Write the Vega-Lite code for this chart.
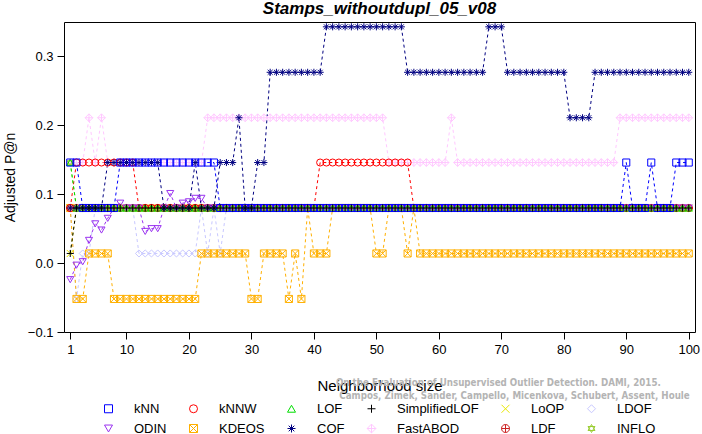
{
"$schema":"https://vega.github.io/schema/vega-lite/v6.json",
"width":631,"height":310,
"autosize":{"type":"none"},
"padding":{"left":64,"top":22,"right":7,"bottom":102},
"background":"white",
"title":{"text":"Stamps_withoutdupl_05_v08","font":"Liberation Sans","fontSize":17,"fontStyle":"italic","fontWeight":"bold","anchor":"middle","offset":4,"color":"#000"},
"config":{"view":{"stroke":"#000","strokeWidth":1},"axis":{"grid":false,"domain":false,"tickColor":"#000","tickSize":7,"labelFont":"Liberation Sans","labelFontSize":13,"labelColor":"#000","titleFont":"Liberation Sans","titleFontSize":14,"titleFontWeight":"normal","titleColor":"#000"},
"legend":{"labelFont":"Liberation Sans","labelFontSize":13,"labelColor":"#000"}},
"data":{"values":[
{"m":"FastABOD","k":1,"v":0.146},{"m":"FastABOD","k":2,"v":0.146},{"m":"FastABOD","k":3,"v":0.146},{"m":"FastABOD","k":4,"v":0.211},{"m":"FastABOD","k":5,"v":0.146},{"m":"FastABOD","k":6,"v":0.211},{"m":"FastABOD","k":7,"v":0.146},{"m":"FastABOD","k":8,"v":0.146},{"m":"FastABOD","k":9,"v":0.146},{"m":"FastABOD","k":10,"v":0.146},
{"m":"FastABOD","k":11,"v":0.146},{"m":"FastABOD","k":12,"v":0.146},{"m":"FastABOD","k":13,"v":0.146},{"m":"FastABOD","k":14,"v":0.146},{"m":"FastABOD","k":15,"v":0.146},{"m":"FastABOD","k":16,"v":0.146},{"m":"FastABOD","k":17,"v":0.146},{"m":"FastABOD","k":18,"v":0.146},{"m":"FastABOD","k":19,"v":0.146},{"m":"FastABOD","k":20,"v":0.146},
{"m":"FastABOD","k":21,"v":0.146},{"m":"FastABOD","k":22,"v":0.146},{"m":"FastABOD","k":23,"v":0.211},{"m":"FastABOD","k":24,"v":0.211},{"m":"FastABOD","k":25,"v":0.211},{"m":"FastABOD","k":26,"v":0.211},{"m":"FastABOD","k":27,"v":0.211},{"m":"FastABOD","k":28,"v":0.211},{"m":"FastABOD","k":29,"v":0.211},{"m":"FastABOD","k":30,"v":0.211},
{"m":"FastABOD","k":31,"v":0.211},{"m":"FastABOD","k":32,"v":0.211},{"m":"FastABOD","k":33,"v":0.211},{"m":"FastABOD","k":34,"v":0.211},{"m":"FastABOD","k":35,"v":0.211},{"m":"FastABOD","k":36,"v":0.211},{"m":"FastABOD","k":37,"v":0.211},{"m":"FastABOD","k":38,"v":0.211},{"m":"FastABOD","k":39,"v":0.211},{"m":"FastABOD","k":40,"v":0.211},
{"m":"FastABOD","k":41,"v":0.211},{"m":"FastABOD","k":42,"v":0.211},{"m":"FastABOD","k":43,"v":0.211},{"m":"FastABOD","k":44,"v":0.211},{"m":"FastABOD","k":45,"v":0.211},{"m":"FastABOD","k":46,"v":0.211},{"m":"FastABOD","k":47,"v":0.211},{"m":"FastABOD","k":48,"v":0.211},{"m":"FastABOD","k":49,"v":0.211},{"m":"FastABOD","k":50,"v":0.211},
{"m":"FastABOD","k":51,"v":0.211},{"m":"FastABOD","k":52,"v":0.146},{"m":"FastABOD","k":53,"v":0.146},{"m":"FastABOD","k":54,"v":0.146},{"m":"FastABOD","k":55,"v":0.146},{"m":"FastABOD","k":56,"v":0.146},{"m":"FastABOD","k":57,"v":0.146},{"m":"FastABOD","k":58,"v":0.146},{"m":"FastABOD","k":59,"v":0.146},{"m":"FastABOD","k":60,"v":0.146},
{"m":"FastABOD","k":61,"v":0.146},{"m":"FastABOD","k":62,"v":0.211},{"m":"FastABOD","k":63,"v":0.146},{"m":"FastABOD","k":64,"v":0.146},{"m":"FastABOD","k":65,"v":0.146},{"m":"FastABOD","k":66,"v":0.146},{"m":"FastABOD","k":67,"v":0.146},{"m":"FastABOD","k":68,"v":0.146},{"m":"FastABOD","k":69,"v":0.146},{"m":"FastABOD","k":70,"v":0.146},
{"m":"FastABOD","k":71,"v":0.146},{"m":"FastABOD","k":72,"v":0.146},{"m":"FastABOD","k":73,"v":0.146},{"m":"FastABOD","k":74,"v":0.146},{"m":"FastABOD","k":75,"v":0.146},{"m":"FastABOD","k":76,"v":0.146},{"m":"FastABOD","k":77,"v":0.146},{"m":"FastABOD","k":78,"v":0.146},{"m":"FastABOD","k":79,"v":0.146},{"m":"FastABOD","k":80,"v":0.146},
{"m":"FastABOD","k":81,"v":0.146},{"m":"FastABOD","k":82,"v":0.146},{"m":"FastABOD","k":83,"v":0.146},{"m":"FastABOD","k":84,"v":0.146},{"m":"FastABOD","k":85,"v":0.146},{"m":"FastABOD","k":86,"v":0.146},{"m":"FastABOD","k":87,"v":0.146},{"m":"FastABOD","k":88,"v":0.146},{"m":"FastABOD","k":89,"v":0.211},{"m":"FastABOD","k":90,"v":0.211},
{"m":"FastABOD","k":91,"v":0.211},{"m":"FastABOD","k":92,"v":0.211},{"m":"FastABOD","k":93,"v":0.211},{"m":"FastABOD","k":94,"v":0.211},{"m":"FastABOD","k":95,"v":0.211},{"m":"FastABOD","k":96,"v":0.211},{"m":"FastABOD","k":97,"v":0.211},{"m":"FastABOD","k":98,"v":0.211},{"m":"FastABOD","k":99,"v":0.211},{"m":"FastABOD","k":100,"v":0.211},
{"m":"LDOF","k":1,"v":0.08},{"m":"LDOF","k":2,"v":-0.052},{"m":"LDOF","k":3,"v":0.014},{"m":"LDOF","k":4,"v":0.014},{"m":"LDOF","k":5,"v":0.08},{"m":"LDOF","k":6,"v":0.08},{"m":"LDOF","k":7,"v":0.08},{"m":"LDOF","k":8,"v":0.08},{"m":"LDOF","k":9,"v":0.08},{"m":"LDOF","k":10,"v":0.08},
{"m":"LDOF","k":11,"v":0.08},{"m":"LDOF","k":12,"v":0.014},{"m":"LDOF","k":13,"v":0.014},{"m":"LDOF","k":14,"v":0.014},{"m":"LDOF","k":15,"v":0.014},{"m":"LDOF","k":16,"v":0.014},{"m":"LDOF","k":17,"v":0.014},{"m":"LDOF","k":18,"v":0.014},{"m":"LDOF","k":19,"v":0.014},{"m":"LDOF","k":20,"v":0.014},
{"m":"LDOF","k":21,"v":0.014},{"m":"LDOF","k":22,"v":0.08},{"m":"LDOF","k":23,"v":0.014},{"m":"LDOF","k":24,"v":0.08},{"m":"LDOF","k":25,"v":0.014},{"m":"LDOF","k":26,"v":0.08},{"m":"LDOF","k":27,"v":0.08},{"m":"LDOF","k":28,"v":0.08},{"m":"LDOF","k":29,"v":0.08},{"m":"LDOF","k":30,"v":0.08},
{"m":"LDOF","k":31,"v":0.08},{"m":"LDOF","k":32,"v":0.08},{"m":"LDOF","k":33,"v":0.08},{"m":"LDOF","k":34,"v":0.08},{"m":"LDOF","k":35,"v":0.08},{"m":"LDOF","k":36,"v":0.08},{"m":"LDOF","k":37,"v":0.08},{"m":"LDOF","k":38,"v":0.08},{"m":"LDOF","k":39,"v":0.08},{"m":"LDOF","k":40,"v":0.08},
{"m":"LDOF","k":41,"v":0.08},{"m":"LDOF","k":42,"v":0.08},{"m":"LDOF","k":43,"v":0.08},{"m":"LDOF","k":44,"v":0.08},{"m":"LDOF","k":45,"v":0.08},{"m":"LDOF","k":46,"v":0.08},{"m":"LDOF","k":47,"v":0.08},{"m":"LDOF","k":48,"v":0.08},{"m":"LDOF","k":49,"v":0.08},{"m":"LDOF","k":50,"v":0.08},
{"m":"LDOF","k":51,"v":0.08},{"m":"LDOF","k":52,"v":0.08},{"m":"LDOF","k":53,"v":0.08},{"m":"LDOF","k":54,"v":0.08},{"m":"LDOF","k":55,"v":0.08},{"m":"LDOF","k":56,"v":0.08},{"m":"LDOF","k":57,"v":0.08},{"m":"LDOF","k":58,"v":0.08},{"m":"LDOF","k":59,"v":0.08},{"m":"LDOF","k":60,"v":0.08},
{"m":"LDOF","k":61,"v":0.08},{"m":"LDOF","k":62,"v":0.08},{"m":"LDOF","k":63,"v":0.08},{"m":"LDOF","k":64,"v":0.08},{"m":"LDOF","k":65,"v":0.08},{"m":"LDOF","k":66,"v":0.08},{"m":"LDOF","k":67,"v":0.08},{"m":"LDOF","k":68,"v":0.08},{"m":"LDOF","k":69,"v":0.08},{"m":"LDOF","k":70,"v":0.08},
{"m":"LDOF","k":71,"v":0.08},{"m":"LDOF","k":72,"v":0.08},{"m":"LDOF","k":73,"v":0.08},{"m":"LDOF","k":74,"v":0.08},{"m":"LDOF","k":75,"v":0.08},{"m":"LDOF","k":76,"v":0.08},{"m":"LDOF","k":77,"v":0.08},{"m":"LDOF","k":78,"v":0.08},{"m":"LDOF","k":79,"v":0.08},{"m":"LDOF","k":80,"v":0.08},
{"m":"LDOF","k":81,"v":0.08},{"m":"LDOF","k":82,"v":0.08},{"m":"LDOF","k":83,"v":0.08},{"m":"LDOF","k":84,"v":0.08},{"m":"LDOF","k":85,"v":0.08},{"m":"LDOF","k":86,"v":0.08},{"m":"LDOF","k":87,"v":0.08},{"m":"LDOF","k":88,"v":0.08},{"m":"LDOF","k":89,"v":0.08},{"m":"LDOF","k":90,"v":0.08},
{"m":"LDOF","k":91,"v":0.08},{"m":"LDOF","k":92,"v":0.08},{"m":"LDOF","k":93,"v":0.08},{"m":"LDOF","k":94,"v":0.08},{"m":"LDOF","k":95,"v":0.08},{"m":"LDOF","k":96,"v":0.08},{"m":"LDOF","k":97,"v":0.08},{"m":"LDOF","k":98,"v":0.08},{"m":"LDOF","k":99,"v":0.08},{"m":"LDOF","k":100,"v":0.08},
{"m":"KDEOS","k":1,"v":0.08},{"m":"KDEOS","k":2,"v":-0.052},{"m":"KDEOS","k":3,"v":-0.052},{"m":"KDEOS","k":4,"v":0.014},{"m":"KDEOS","k":5,"v":0.014},{"m":"KDEOS","k":6,"v":0.014},{"m":"KDEOS","k":7,"v":0.014},{"m":"KDEOS","k":8,"v":-0.052},{"m":"KDEOS","k":9,"v":-0.052},{"m":"KDEOS","k":10,"v":-0.052},
{"m":"KDEOS","k":11,"v":-0.052},{"m":"KDEOS","k":12,"v":-0.052},{"m":"KDEOS","k":13,"v":-0.052},{"m":"KDEOS","k":14,"v":-0.052},{"m":"KDEOS","k":15,"v":-0.052},{"m":"KDEOS","k":16,"v":-0.052},{"m":"KDEOS","k":17,"v":-0.052},{"m":"KDEOS","k":18,"v":-0.052},{"m":"KDEOS","k":19,"v":-0.052},{"m":"KDEOS","k":20,"v":-0.052},
{"m":"KDEOS","k":21,"v":-0.052},{"m":"KDEOS","k":22,"v":0.014},{"m":"KDEOS","k":23,"v":0.014},{"m":"KDEOS","k":24,"v":0.014},{"m":"KDEOS","k":25,"v":0.014},{"m":"KDEOS","k":26,"v":0.014},{"m":"KDEOS","k":27,"v":0.014},{"m":"KDEOS","k":28,"v":0.014},{"m":"KDEOS","k":29,"v":0.014},{"m":"KDEOS","k":30,"v":-0.052},
{"m":"KDEOS","k":31,"v":-0.052},{"m":"KDEOS","k":32,"v":0.014},{"m":"KDEOS","k":33,"v":0.014},{"m":"KDEOS","k":34,"v":0.014},{"m":"KDEOS","k":35,"v":0.014},{"m":"KDEOS","k":36,"v":-0.052},{"m":"KDEOS","k":37,"v":0.014},{"m":"KDEOS","k":38,"v":-0.052},{"m":"KDEOS","k":39,"v":0.08},{"m":"KDEOS","k":40,"v":0.014},
{"m":"KDEOS","k":41,"v":0.014},{"m":"KDEOS","k":42,"v":0.014},{"m":"KDEOS","k":43,"v":0.08},{"m":"KDEOS","k":44,"v":0.08},{"m":"KDEOS","k":45,"v":0.08},{"m":"KDEOS","k":46,"v":0.08},{"m":"KDEOS","k":47,"v":0.08},{"m":"KDEOS","k":48,"v":0.08},{"m":"KDEOS","k":49,"v":0.08},{"m":"KDEOS","k":50,"v":0.014},
{"m":"KDEOS","k":51,"v":0.014},{"m":"KDEOS","k":52,"v":0.08},{"m":"KDEOS","k":53,"v":0.08},{"m":"KDEOS","k":54,"v":0.08},{"m":"KDEOS","k":55,"v":0.014},{"m":"KDEOS","k":56,"v":0.08},{"m":"KDEOS","k":57,"v":0.014},{"m":"KDEOS","k":58,"v":0.014},{"m":"KDEOS","k":59,"v":0.014},{"m":"KDEOS","k":60,"v":0.014},
{"m":"KDEOS","k":61,"v":0.014},{"m":"KDEOS","k":62,"v":0.014},{"m":"KDEOS","k":63,"v":0.014},{"m":"KDEOS","k":64,"v":0.014},{"m":"KDEOS","k":65,"v":0.014},{"m":"KDEOS","k":66,"v":0.014},{"m":"KDEOS","k":67,"v":0.014},{"m":"KDEOS","k":68,"v":0.014},{"m":"KDEOS","k":69,"v":0.014},{"m":"KDEOS","k":70,"v":0.014},
{"m":"KDEOS","k":71,"v":0.014},{"m":"KDEOS","k":72,"v":0.014},{"m":"KDEOS","k":73,"v":0.014},{"m":"KDEOS","k":74,"v":0.014},{"m":"KDEOS","k":75,"v":0.014},{"m":"KDEOS","k":76,"v":0.014},{"m":"KDEOS","k":77,"v":0.014},{"m":"KDEOS","k":78,"v":0.014},{"m":"KDEOS","k":79,"v":0.014},{"m":"KDEOS","k":80,"v":0.014},
{"m":"KDEOS","k":81,"v":0.014},{"m":"KDEOS","k":82,"v":0.014},{"m":"KDEOS","k":83,"v":0.014},{"m":"KDEOS","k":84,"v":0.014},{"m":"KDEOS","k":85,"v":0.014},{"m":"KDEOS","k":86,"v":0.014},{"m":"KDEOS","k":87,"v":0.014},{"m":"KDEOS","k":88,"v":0.014},{"m":"KDEOS","k":89,"v":0.014},{"m":"KDEOS","k":90,"v":0.014},
{"m":"KDEOS","k":91,"v":0.014},{"m":"KDEOS","k":92,"v":0.014},{"m":"KDEOS","k":93,"v":0.014},{"m":"KDEOS","k":94,"v":0.014},{"m":"KDEOS","k":95,"v":0.014},{"m":"KDEOS","k":96,"v":0.014},{"m":"KDEOS","k":97,"v":0.014},{"m":"KDEOS","k":98,"v":0.014},{"m":"KDEOS","k":99,"v":0.014},{"m":"KDEOS","k":100,"v":0.014},
{"m":"LoOP","k":1,"v":0.014},{"m":"LoOP","k":2,"v":0.08},{"m":"LoOP","k":3,"v":0.08},{"m":"LoOP","k":4,"v":0.08},{"m":"LoOP","k":5,"v":0.08},{"m":"LoOP","k":6,"v":0.08},{"m":"LoOP","k":7,"v":0.08},{"m":"LoOP","k":8,"v":0.08},{"m":"LoOP","k":9,"v":0.08},{"m":"LoOP","k":10,"v":0.08},
{"m":"LoOP","k":11,"v":0.08},{"m":"LoOP","k":12,"v":0.08},{"m":"LoOP","k":13,"v":0.08},{"m":"LoOP","k":14,"v":0.08},{"m":"LoOP","k":15,"v":0.08},{"m":"LoOP","k":16,"v":0.08},{"m":"LoOP","k":17,"v":0.08},{"m":"LoOP","k":18,"v":0.08},{"m":"LoOP","k":19,"v":0.08},{"m":"LoOP","k":20,"v":0.08},
{"m":"LoOP","k":21,"v":0.08},{"m":"LoOP","k":22,"v":0.08},{"m":"LoOP","k":23,"v":0.08},{"m":"LoOP","k":24,"v":0.08},{"m":"LoOP","k":25,"v":0.08},{"m":"LoOP","k":26,"v":0.08},{"m":"LoOP","k":27,"v":0.08},{"m":"LoOP","k":28,"v":0.08},{"m":"LoOP","k":29,"v":0.08},{"m":"LoOP","k":30,"v":0.08},
{"m":"LoOP","k":31,"v":0.08},{"m":"LoOP","k":32,"v":0.08},{"m":"LoOP","k":33,"v":0.08},{"m":"LoOP","k":34,"v":0.08},{"m":"LoOP","k":35,"v":0.08},{"m":"LoOP","k":36,"v":0.08},{"m":"LoOP","k":37,"v":0.08},{"m":"LoOP","k":38,"v":0.08},{"m":"LoOP","k":39,"v":0.08},{"m":"LoOP","k":40,"v":0.08},
{"m":"LoOP","k":41,"v":0.08},{"m":"LoOP","k":42,"v":0.08},{"m":"LoOP","k":43,"v":0.08},{"m":"LoOP","k":44,"v":0.08},{"m":"LoOP","k":45,"v":0.08},{"m":"LoOP","k":46,"v":0.08},{"m":"LoOP","k":47,"v":0.08},{"m":"LoOP","k":48,"v":0.08},{"m":"LoOP","k":49,"v":0.08},{"m":"LoOP","k":50,"v":0.08},
{"m":"LoOP","k":51,"v":0.08},{"m":"LoOP","k":52,"v":0.08},{"m":"LoOP","k":53,"v":0.08},{"m":"LoOP","k":54,"v":0.08},{"m":"LoOP","k":55,"v":0.08},{"m":"LoOP","k":56,"v":0.08},{"m":"LoOP","k":57,"v":0.08},{"m":"LoOP","k":58,"v":0.08},{"m":"LoOP","k":59,"v":0.08},{"m":"LoOP","k":60,"v":0.08},
{"m":"LoOP","k":61,"v":0.08},{"m":"LoOP","k":62,"v":0.08},{"m":"LoOP","k":63,"v":0.08},{"m":"LoOP","k":64,"v":0.08},{"m":"LoOP","k":65,"v":0.08},{"m":"LoOP","k":66,"v":0.08},{"m":"LoOP","k":67,"v":0.08},{"m":"LoOP","k":68,"v":0.08},{"m":"LoOP","k":69,"v":0.08},{"m":"LoOP","k":70,"v":0.08},
{"m":"LoOP","k":71,"v":0.08},{"m":"LoOP","k":72,"v":0.08},{"m":"LoOP","k":73,"v":0.08},{"m":"LoOP","k":74,"v":0.08},{"m":"LoOP","k":75,"v":0.08},{"m":"LoOP","k":76,"v":0.08},{"m":"LoOP","k":77,"v":0.08},{"m":"LoOP","k":78,"v":0.08},{"m":"LoOP","k":79,"v":0.08},{"m":"LoOP","k":80,"v":0.08},
{"m":"LoOP","k":81,"v":0.08},{"m":"LoOP","k":82,"v":0.08},{"m":"LoOP","k":83,"v":0.08},{"m":"LoOP","k":84,"v":0.08},{"m":"LoOP","k":85,"v":0.08},{"m":"LoOP","k":86,"v":0.08},{"m":"LoOP","k":87,"v":0.08},{"m":"LoOP","k":88,"v":0.08},{"m":"LoOP","k":89,"v":0.08},{"m":"LoOP","k":90,"v":0.08},
{"m":"LoOP","k":91,"v":0.08},{"m":"LoOP","k":92,"v":0.08},{"m":"LoOP","k":93,"v":0.08},{"m":"LoOP","k":94,"v":0.08},{"m":"LoOP","k":95,"v":0.08},{"m":"LoOP","k":96,"v":0.08},{"m":"LoOP","k":97,"v":0.08},{"m":"LoOP","k":98,"v":0.08},{"m":"LoOP","k":99,"v":0.08},{"m":"LoOP","k":100,"v":0.08},
{"m":"INFLO","k":1,"v":0.146},{"m":"INFLO","k":2,"v":0.08},{"m":"INFLO","k":3,"v":0.08},{"m":"INFLO","k":4,"v":0.08},{"m":"INFLO","k":5,"v":0.08},{"m":"INFLO","k":6,"v":0.08},{"m":"INFLO","k":7,"v":0.08},{"m":"INFLO","k":8,"v":0.08},{"m":"INFLO","k":9,"v":0.08},{"m":"INFLO","k":10,"v":0.08},
{"m":"INFLO","k":11,"v":0.08},{"m":"INFLO","k":12,"v":0.08},{"m":"INFLO","k":13,"v":0.08},{"m":"INFLO","k":14,"v":0.08},{"m":"INFLO","k":15,"v":0.08},{"m":"INFLO","k":16,"v":0.08},{"m":"INFLO","k":17,"v":0.08},{"m":"INFLO","k":18,"v":0.08},{"m":"INFLO","k":19,"v":0.08},{"m":"INFLO","k":20,"v":0.08},
{"m":"INFLO","k":21,"v":0.08},{"m":"INFLO","k":22,"v":0.08},{"m":"INFLO","k":23,"v":0.08},{"m":"INFLO","k":24,"v":0.08},{"m":"INFLO","k":25,"v":0.08},{"m":"INFLO","k":26,"v":0.08},{"m":"INFLO","k":27,"v":0.08},{"m":"INFLO","k":28,"v":0.08},{"m":"INFLO","k":29,"v":0.08},{"m":"INFLO","k":30,"v":0.08},
{"m":"INFLO","k":31,"v":0.08},{"m":"INFLO","k":32,"v":0.08},{"m":"INFLO","k":33,"v":0.08},{"m":"INFLO","k":34,"v":0.08},{"m":"INFLO","k":35,"v":0.08},{"m":"INFLO","k":36,"v":0.08},{"m":"INFLO","k":37,"v":0.08},{"m":"INFLO","k":38,"v":0.08},{"m":"INFLO","k":39,"v":0.08},{"m":"INFLO","k":40,"v":0.08},
{"m":"INFLO","k":41,"v":0.08},{"m":"INFLO","k":42,"v":0.08},{"m":"INFLO","k":43,"v":0.08},{"m":"INFLO","k":44,"v":0.08},{"m":"INFLO","k":45,"v":0.08},{"m":"INFLO","k":46,"v":0.08},{"m":"INFLO","k":47,"v":0.08},{"m":"INFLO","k":48,"v":0.08},{"m":"INFLO","k":49,"v":0.08},{"m":"INFLO","k":50,"v":0.08},
{"m":"INFLO","k":51,"v":0.08},{"m":"INFLO","k":52,"v":0.08},{"m":"INFLO","k":53,"v":0.08},{"m":"INFLO","k":54,"v":0.08},{"m":"INFLO","k":55,"v":0.08},{"m":"INFLO","k":56,"v":0.08},{"m":"INFLO","k":57,"v":0.08},{"m":"INFLO","k":58,"v":0.08},{"m":"INFLO","k":59,"v":0.08},{"m":"INFLO","k":60,"v":0.08},
{"m":"INFLO","k":61,"v":0.08},{"m":"INFLO","k":62,"v":0.08},{"m":"INFLO","k":63,"v":0.08},{"m":"INFLO","k":64,"v":0.08},{"m":"INFLO","k":65,"v":0.08},{"m":"INFLO","k":66,"v":0.08},{"m":"INFLO","k":67,"v":0.08},{"m":"INFLO","k":68,"v":0.08},{"m":"INFLO","k":69,"v":0.08},{"m":"INFLO","k":70,"v":0.08},
{"m":"INFLO","k":71,"v":0.08},{"m":"INFLO","k":72,"v":0.08},{"m":"INFLO","k":73,"v":0.08},{"m":"INFLO","k":74,"v":0.08},{"m":"INFLO","k":75,"v":0.08},{"m":"INFLO","k":76,"v":0.08},{"m":"INFLO","k":77,"v":0.08},{"m":"INFLO","k":78,"v":0.08},{"m":"INFLO","k":79,"v":0.08},{"m":"INFLO","k":80,"v":0.08},
{"m":"INFLO","k":81,"v":0.08},{"m":"INFLO","k":82,"v":0.08},{"m":"INFLO","k":83,"v":0.08},{"m":"INFLO","k":84,"v":0.08},{"m":"INFLO","k":85,"v":0.08},{"m":"INFLO","k":86,"v":0.08},{"m":"INFLO","k":87,"v":0.08},{"m":"INFLO","k":88,"v":0.08},{"m":"INFLO","k":89,"v":0.08},{"m":"INFLO","k":90,"v":0.08},
{"m":"INFLO","k":91,"v":0.08},{"m":"INFLO","k":92,"v":0.08},{"m":"INFLO","k":93,"v":0.08},{"m":"INFLO","k":94,"v":0.08},{"m":"INFLO","k":95,"v":0.08},{"m":"INFLO","k":96,"v":0.08},{"m":"INFLO","k":97,"v":0.08},{"m":"INFLO","k":98,"v":0.08},{"m":"INFLO","k":99,"v":0.08},{"m":"INFLO","k":100,"v":0.08},
{"m":"LDF","k":1,"v":0.08},{"m":"LDF","k":2,"v":0.08},{"m":"LDF","k":3,"v":0.08},{"m":"LDF","k":4,"v":0.08},{"m":"LDF","k":5,"v":0.08},{"m":"LDF","k":6,"v":0.08},{"m":"LDF","k":7,"v":0.08},{"m":"LDF","k":8,"v":0.08},{"m":"LDF","k":9,"v":0.08},{"m":"LDF","k":10,"v":0.08},
{"m":"LDF","k":11,"v":0.08},{"m":"LDF","k":12,"v":0.08},{"m":"LDF","k":13,"v":0.08},{"m":"LDF","k":14,"v":0.08},{"m":"LDF","k":15,"v":0.08},{"m":"LDF","k":16,"v":0.08},{"m":"LDF","k":17,"v":0.08},{"m":"LDF","k":18,"v":0.08},{"m":"LDF","k":19,"v":0.08},{"m":"LDF","k":20,"v":0.08},
{"m":"LDF","k":21,"v":0.08},{"m":"LDF","k":22,"v":0.08},{"m":"LDF","k":23,"v":0.08},{"m":"LDF","k":24,"v":0.08},{"m":"LDF","k":25,"v":0.08},{"m":"LDF","k":26,"v":0.08},{"m":"LDF","k":27,"v":0.08},{"m":"LDF","k":28,"v":0.08},{"m":"LDF","k":29,"v":0.08},{"m":"LDF","k":30,"v":0.08},
{"m":"LDF","k":31,"v":0.08},{"m":"LDF","k":32,"v":0.08},{"m":"LDF","k":33,"v":0.08},{"m":"LDF","k":34,"v":0.08},{"m":"LDF","k":35,"v":0.08},{"m":"LDF","k":36,"v":0.08},{"m":"LDF","k":37,"v":0.08},{"m":"LDF","k":38,"v":0.08},{"m":"LDF","k":39,"v":0.08},{"m":"LDF","k":40,"v":0.08},
{"m":"LDF","k":41,"v":0.08},{"m":"LDF","k":42,"v":0.08},{"m":"LDF","k":43,"v":0.08},{"m":"LDF","k":44,"v":0.08},{"m":"LDF","k":45,"v":0.08},{"m":"LDF","k":46,"v":0.08},{"m":"LDF","k":47,"v":0.08},{"m":"LDF","k":48,"v":0.08},{"m":"LDF","k":49,"v":0.08},{"m":"LDF","k":50,"v":0.08},
{"m":"LDF","k":51,"v":0.08},{"m":"LDF","k":52,"v":0.08},{"m":"LDF","k":53,"v":0.08},{"m":"LDF","k":54,"v":0.08},{"m":"LDF","k":55,"v":0.08},{"m":"LDF","k":56,"v":0.08},{"m":"LDF","k":57,"v":0.08},{"m":"LDF","k":58,"v":0.08},{"m":"LDF","k":59,"v":0.08},{"m":"LDF","k":60,"v":0.08},
{"m":"LDF","k":61,"v":0.08},{"m":"LDF","k":62,"v":0.08},{"m":"LDF","k":63,"v":0.08},{"m":"LDF","k":64,"v":0.08},{"m":"LDF","k":65,"v":0.08},{"m":"LDF","k":66,"v":0.08},{"m":"LDF","k":67,"v":0.08},{"m":"LDF","k":68,"v":0.08},{"m":"LDF","k":69,"v":0.08},{"m":"LDF","k":70,"v":0.08},
{"m":"LDF","k":71,"v":0.08},{"m":"LDF","k":72,"v":0.08},{"m":"LDF","k":73,"v":0.08},{"m":"LDF","k":74,"v":0.08},{"m":"LDF","k":75,"v":0.08},{"m":"LDF","k":76,"v":0.08},{"m":"LDF","k":77,"v":0.08},{"m":"LDF","k":78,"v":0.08},{"m":"LDF","k":79,"v":0.08},{"m":"LDF","k":80,"v":0.08},
{"m":"LDF","k":81,"v":0.08},{"m":"LDF","k":82,"v":0.08},{"m":"LDF","k":83,"v":0.08},{"m":"LDF","k":84,"v":0.08},{"m":"LDF","k":85,"v":0.08},{"m":"LDF","k":86,"v":0.08},{"m":"LDF","k":87,"v":0.08},{"m":"LDF","k":88,"v":0.08},{"m":"LDF","k":89,"v":0.08},{"m":"LDF","k":90,"v":0.08},
{"m":"LDF","k":91,"v":0.08},{"m":"LDF","k":92,"v":0.08},{"m":"LDF","k":93,"v":0.08},{"m":"LDF","k":94,"v":0.08},{"m":"LDF","k":95,"v":0.08},{"m":"LDF","k":96,"v":0.08},{"m":"LDF","k":97,"v":0.08},{"m":"LDF","k":98,"v":0.08},{"m":"LDF","k":99,"v":0.08},{"m":"LDF","k":100,"v":0.08},
{"m":"kNNW","k":1,"v":0.08},{"m":"kNNW","k":2,"v":0.146},{"m":"kNNW","k":3,"v":0.146},{"m":"kNNW","k":4,"v":0.146},{"m":"kNNW","k":5,"v":0.146},{"m":"kNNW","k":6,"v":0.146},{"m":"kNNW","k":7,"v":0.146},{"m":"kNNW","k":8,"v":0.146},{"m":"kNNW","k":9,"v":0.146},{"m":"kNNW","k":10,"v":0.146},
{"m":"kNNW","k":11,"v":0.146},{"m":"kNNW","k":12,"v":0.08},{"m":"kNNW","k":13,"v":0.08},{"m":"kNNW","k":14,"v":0.08},{"m":"kNNW","k":15,"v":0.08},{"m":"kNNW","k":16,"v":0.08},{"m":"kNNW","k":17,"v":0.08},{"m":"kNNW","k":18,"v":0.08},{"m":"kNNW","k":19,"v":0.08},{"m":"kNNW","k":20,"v":0.08},
{"m":"kNNW","k":21,"v":0.08},{"m":"kNNW","k":22,"v":0.08},{"m":"kNNW","k":23,"v":0.08},{"m":"kNNW","k":24,"v":0.08},{"m":"kNNW","k":25,"v":0.08},{"m":"kNNW","k":26,"v":0.08},{"m":"kNNW","k":27,"v":0.08},{"m":"kNNW","k":28,"v":0.08},{"m":"kNNW","k":29,"v":0.08},{"m":"kNNW","k":30,"v":0.08},
{"m":"kNNW","k":31,"v":0.08},{"m":"kNNW","k":32,"v":0.08},{"m":"kNNW","k":33,"v":0.08},{"m":"kNNW","k":34,"v":0.08},{"m":"kNNW","k":35,"v":0.08},{"m":"kNNW","k":36,"v":0.08},{"m":"kNNW","k":37,"v":0.08},{"m":"kNNW","k":38,"v":0.08},{"m":"kNNW","k":39,"v":0.08},{"m":"kNNW","k":40,"v":0.08},
{"m":"kNNW","k":41,"v":0.146},{"m":"kNNW","k":42,"v":0.146},{"m":"kNNW","k":43,"v":0.146},{"m":"kNNW","k":44,"v":0.146},{"m":"kNNW","k":45,"v":0.146},{"m":"kNNW","k":46,"v":0.146},{"m":"kNNW","k":47,"v":0.146},{"m":"kNNW","k":48,"v":0.146},{"m":"kNNW","k":49,"v":0.146},{"m":"kNNW","k":50,"v":0.146},
{"m":"kNNW","k":51,"v":0.146},{"m":"kNNW","k":52,"v":0.146},{"m":"kNNW","k":53,"v":0.146},{"m":"kNNW","k":54,"v":0.146},{"m":"kNNW","k":55,"v":0.146},{"m":"kNNW","k":56,"v":0.08},{"m":"kNNW","k":57,"v":0.08},{"m":"kNNW","k":58,"v":0.08},{"m":"kNNW","k":59,"v":0.08},{"m":"kNNW","k":60,"v":0.08},
{"m":"kNNW","k":61,"v":0.08},{"m":"kNNW","k":62,"v":0.08},{"m":"kNNW","k":63,"v":0.08},{"m":"kNNW","k":64,"v":0.08},{"m":"kNNW","k":65,"v":0.08},{"m":"kNNW","k":66,"v":0.08},{"m":"kNNW","k":67,"v":0.08},{"m":"kNNW","k":68,"v":0.08},{"m":"kNNW","k":69,"v":0.08},{"m":"kNNW","k":70,"v":0.08},
{"m":"kNNW","k":71,"v":0.08},{"m":"kNNW","k":72,"v":0.08},{"m":"kNNW","k":73,"v":0.08},{"m":"kNNW","k":74,"v":0.08},{"m":"kNNW","k":75,"v":0.08},{"m":"kNNW","k":76,"v":0.08},{"m":"kNNW","k":77,"v":0.08},{"m":"kNNW","k":78,"v":0.08},{"m":"kNNW","k":79,"v":0.08},{"m":"kNNW","k":80,"v":0.08},
{"m":"kNNW","k":81,"v":0.08},{"m":"kNNW","k":82,"v":0.08},{"m":"kNNW","k":83,"v":0.08},{"m":"kNNW","k":84,"v":0.08},{"m":"kNNW","k":85,"v":0.08},{"m":"kNNW","k":86,"v":0.08},{"m":"kNNW","k":87,"v":0.08},{"m":"kNNW","k":88,"v":0.08},{"m":"kNNW","k":89,"v":0.08},{"m":"kNNW","k":90,"v":0.08},
{"m":"kNNW","k":91,"v":0.08},{"m":"kNNW","k":92,"v":0.08},{"m":"kNNW","k":93,"v":0.08},{"m":"kNNW","k":94,"v":0.08},{"m":"kNNW","k":95,"v":0.08},{"m":"kNNW","k":96,"v":0.08},{"m":"kNNW","k":97,"v":0.08},{"m":"kNNW","k":98,"v":0.08},{"m":"kNNW","k":99,"v":0.08},{"m":"kNNW","k":100,"v":0.08},
{"m":"ODIN","k":1,"v":-0.024},{"m":"ODIN","k":2,"v":-0.003},{"m":"ODIN","k":3,"v":0.002},{"m":"ODIN","k":4,"v":0.033},{"m":"ODIN","k":5,"v":0.057},{"m":"ODIN","k":6,"v":0.048},{"m":"ODIN","k":7,"v":0.065},{"m":"ODIN","k":8,"v":0.08},{"m":"ODIN","k":9,"v":0.087},{"m":"ODIN","k":10,"v":0.08},
{"m":"ODIN","k":11,"v":0.08},{"m":"ODIN","k":12,"v":0.08},{"m":"ODIN","k":13,"v":0.046},{"m":"ODIN","k":14,"v":0.05},{"m":"ODIN","k":15,"v":0.05},{"m":"ODIN","k":16,"v":0.08},{"m":"ODIN","k":17,"v":0.101},{"m":"ODIN","k":18,"v":0.08},{"m":"ODIN","k":19,"v":0.087},{"m":"ODIN","k":20,"v":0.089},
{"m":"ODIN","k":21,"v":0.094},{"m":"ODIN","k":22,"v":0.094},{"m":"ODIN","k":23,"v":0.08},{"m":"ODIN","k":24,"v":0.08},{"m":"ODIN","k":25,"v":0.08},{"m":"ODIN","k":26,"v":0.08},{"m":"ODIN","k":27,"v":0.08},{"m":"ODIN","k":28,"v":0.08},{"m":"ODIN","k":29,"v":0.08},{"m":"ODIN","k":30,"v":0.08},
{"m":"ODIN","k":31,"v":0.08},{"m":"ODIN","k":32,"v":0.08},{"m":"ODIN","k":33,"v":0.08},{"m":"ODIN","k":34,"v":0.08},{"m":"ODIN","k":35,"v":0.08},{"m":"ODIN","k":36,"v":0.08},{"m":"ODIN","k":37,"v":0.08},{"m":"ODIN","k":38,"v":0.08},{"m":"ODIN","k":39,"v":0.08},{"m":"ODIN","k":40,"v":0.08},
{"m":"ODIN","k":41,"v":0.08},{"m":"ODIN","k":42,"v":0.08},{"m":"ODIN","k":43,"v":0.08},{"m":"ODIN","k":44,"v":0.08},{"m":"ODIN","k":45,"v":0.08},{"m":"ODIN","k":46,"v":0.08},{"m":"ODIN","k":47,"v":0.08},{"m":"ODIN","k":48,"v":0.08},{"m":"ODIN","k":49,"v":0.08},{"m":"ODIN","k":50,"v":0.08},
{"m":"ODIN","k":51,"v":0.08},{"m":"ODIN","k":52,"v":0.08},{"m":"ODIN","k":53,"v":0.08},{"m":"ODIN","k":54,"v":0.08},{"m":"ODIN","k":55,"v":0.08},{"m":"ODIN","k":56,"v":0.08},{"m":"ODIN","k":57,"v":0.08},{"m":"ODIN","k":58,"v":0.08},{"m":"ODIN","k":59,"v":0.08},{"m":"ODIN","k":60,"v":0.08},
{"m":"ODIN","k":61,"v":0.08},{"m":"ODIN","k":62,"v":0.08},{"m":"ODIN","k":63,"v":0.08},{"m":"ODIN","k":64,"v":0.08},{"m":"ODIN","k":65,"v":0.08},{"m":"ODIN","k":66,"v":0.08},{"m":"ODIN","k":67,"v":0.08},{"m":"ODIN","k":68,"v":0.08},{"m":"ODIN","k":69,"v":0.08},{"m":"ODIN","k":70,"v":0.08},
{"m":"ODIN","k":71,"v":0.08},{"m":"ODIN","k":72,"v":0.08},{"m":"ODIN","k":73,"v":0.08},{"m":"ODIN","k":74,"v":0.08},{"m":"ODIN","k":75,"v":0.08},{"m":"ODIN","k":76,"v":0.08},{"m":"ODIN","k":77,"v":0.08},{"m":"ODIN","k":78,"v":0.08},{"m":"ODIN","k":79,"v":0.08},{"m":"ODIN","k":80,"v":0.08},
{"m":"ODIN","k":81,"v":0.08},{"m":"ODIN","k":82,"v":0.08},{"m":"ODIN","k":83,"v":0.08},{"m":"ODIN","k":84,"v":0.08},{"m":"ODIN","k":85,"v":0.08},{"m":"ODIN","k":86,"v":0.08},{"m":"ODIN","k":87,"v":0.08},{"m":"ODIN","k":88,"v":0.08},{"m":"ODIN","k":89,"v":0.08},{"m":"ODIN","k":90,"v":0.08},
{"m":"ODIN","k":91,"v":0.08},{"m":"ODIN","k":92,"v":0.08},{"m":"ODIN","k":93,"v":0.08},{"m":"ODIN","k":94,"v":0.08},{"m":"ODIN","k":95,"v":0.08},{"m":"ODIN","k":96,"v":0.08},{"m":"ODIN","k":97,"v":0.08},{"m":"ODIN","k":98,"v":0.08},{"m":"ODIN","k":99,"v":0.08},{"m":"ODIN","k":100,"v":0.08},
{"m":"LOF","k":1,"v":0.146},{"m":"LOF","k":2,"v":0.08},{"m":"LOF","k":3,"v":0.08},{"m":"LOF","k":4,"v":0.08},{"m":"LOF","k":5,"v":0.08},{"m":"LOF","k":6,"v":0.08},{"m":"LOF","k":7,"v":0.08},{"m":"LOF","k":8,"v":0.08},{"m":"LOF","k":9,"v":0.08},{"m":"LOF","k":10,"v":0.08},
{"m":"LOF","k":11,"v":0.08},{"m":"LOF","k":12,"v":0.08},{"m":"LOF","k":13,"v":0.08},{"m":"LOF","k":14,"v":0.08},{"m":"LOF","k":15,"v":0.08},{"m":"LOF","k":16,"v":0.08},{"m":"LOF","k":17,"v":0.08},{"m":"LOF","k":18,"v":0.08},{"m":"LOF","k":19,"v":0.08},{"m":"LOF","k":20,"v":0.08},
{"m":"LOF","k":21,"v":0.08},{"m":"LOF","k":22,"v":0.08},{"m":"LOF","k":23,"v":0.08},{"m":"LOF","k":24,"v":0.08},{"m":"LOF","k":25,"v":0.08},{"m":"LOF","k":26,"v":0.08},{"m":"LOF","k":27,"v":0.08},{"m":"LOF","k":28,"v":0.08},{"m":"LOF","k":29,"v":0.08},{"m":"LOF","k":30,"v":0.08},
{"m":"LOF","k":31,"v":0.08},{"m":"LOF","k":32,"v":0.08},{"m":"LOF","k":33,"v":0.08},{"m":"LOF","k":34,"v":0.08},{"m":"LOF","k":35,"v":0.08},{"m":"LOF","k":36,"v":0.08},{"m":"LOF","k":37,"v":0.08},{"m":"LOF","k":38,"v":0.08},{"m":"LOF","k":39,"v":0.08},{"m":"LOF","k":40,"v":0.08},
{"m":"LOF","k":41,"v":0.08},{"m":"LOF","k":42,"v":0.08},{"m":"LOF","k":43,"v":0.08},{"m":"LOF","k":44,"v":0.08},{"m":"LOF","k":45,"v":0.08},{"m":"LOF","k":46,"v":0.08},{"m":"LOF","k":47,"v":0.08},{"m":"LOF","k":48,"v":0.08},{"m":"LOF","k":49,"v":0.08},{"m":"LOF","k":50,"v":0.08},
{"m":"LOF","k":51,"v":0.08},{"m":"LOF","k":52,"v":0.08},{"m":"LOF","k":53,"v":0.08},{"m":"LOF","k":54,"v":0.08},{"m":"LOF","k":55,"v":0.08},{"m":"LOF","k":56,"v":0.08},{"m":"LOF","k":57,"v":0.08},{"m":"LOF","k":58,"v":0.08},{"m":"LOF","k":59,"v":0.08},{"m":"LOF","k":60,"v":0.08},
{"m":"LOF","k":61,"v":0.08},{"m":"LOF","k":62,"v":0.08},{"m":"LOF","k":63,"v":0.08},{"m":"LOF","k":64,"v":0.08},{"m":"LOF","k":65,"v":0.08},{"m":"LOF","k":66,"v":0.08},{"m":"LOF","k":67,"v":0.08},{"m":"LOF","k":68,"v":0.08},{"m":"LOF","k":69,"v":0.08},{"m":"LOF","k":70,"v":0.08},
{"m":"LOF","k":71,"v":0.08},{"m":"LOF","k":72,"v":0.08},{"m":"LOF","k":73,"v":0.08},{"m":"LOF","k":74,"v":0.08},{"m":"LOF","k":75,"v":0.08},{"m":"LOF","k":76,"v":0.08},{"m":"LOF","k":77,"v":0.08},{"m":"LOF","k":78,"v":0.08},{"m":"LOF","k":79,"v":0.08},{"m":"LOF","k":80,"v":0.08},
{"m":"LOF","k":81,"v":0.08},{"m":"LOF","k":82,"v":0.08},{"m":"LOF","k":83,"v":0.08},{"m":"LOF","k":84,"v":0.08},{"m":"LOF","k":85,"v":0.08},{"m":"LOF","k":86,"v":0.08},{"m":"LOF","k":87,"v":0.08},{"m":"LOF","k":88,"v":0.08},{"m":"LOF","k":89,"v":0.08},{"m":"LOF","k":90,"v":0.08},
{"m":"LOF","k":91,"v":0.08},{"m":"LOF","k":92,"v":0.08},{"m":"LOF","k":93,"v":0.08},{"m":"LOF","k":94,"v":0.08},{"m":"LOF","k":95,"v":0.08},{"m":"LOF","k":96,"v":0.08},{"m":"LOF","k":97,"v":0.08},{"m":"LOF","k":98,"v":0.08},{"m":"LOF","k":99,"v":0.08},{"m":"LOF","k":100,"v":0.08},
{"m":"COF","k":1,"v":0.08},{"m":"COF","k":2,"v":0.08},{"m":"COF","k":3,"v":0.08},{"m":"COF","k":4,"v":0.08},{"m":"COF","k":5,"v":0.08},{"m":"COF","k":6,"v":0.08},{"m":"COF","k":7,"v":0.146},{"m":"COF","k":8,"v":0.146},{"m":"COF","k":9,"v":0.146},{"m":"COF","k":10,"v":0.146},
{"m":"COF","k":11,"v":0.146},{"m":"COF","k":12,"v":0.146},{"m":"COF","k":13,"v":0.146},{"m":"COF","k":14,"v":0.146},{"m":"COF","k":15,"v":0.146},{"m":"COF","k":16,"v":0.08},{"m":"COF","k":17,"v":0.08},{"m":"COF","k":18,"v":0.08},{"m":"COF","k":19,"v":0.08},{"m":"COF","k":20,"v":0.08},
{"m":"COF","k":21,"v":0.146},{"m":"COF","k":22,"v":0.08},{"m":"COF","k":23,"v":0.08},{"m":"COF","k":24,"v":0.08},{"m":"COF","k":25,"v":0.146},{"m":"COF","k":26,"v":0.146},{"m":"COF","k":27,"v":0.146},{"m":"COF","k":28,"v":0.211},{"m":"COF","k":29,"v":0.08},{"m":"COF","k":30,"v":0.08},
{"m":"COF","k":31,"v":0.146},{"m":"COF","k":32,"v":0.146},{"m":"COF","k":33,"v":0.277},{"m":"COF","k":34,"v":0.277},{"m":"COF","k":35,"v":0.277},{"m":"COF","k":36,"v":0.277},{"m":"COF","k":37,"v":0.277},{"m":"COF","k":38,"v":0.277},{"m":"COF","k":39,"v":0.277},{"m":"COF","k":40,"v":0.277},
{"m":"COF","k":41,"v":0.277},{"m":"COF","k":42,"v":0.343},{"m":"COF","k":43,"v":0.343},{"m":"COF","k":44,"v":0.343},{"m":"COF","k":45,"v":0.343},{"m":"COF","k":46,"v":0.343},{"m":"COF","k":47,"v":0.343},{"m":"COF","k":48,"v":0.343},{"m":"COF","k":49,"v":0.343},{"m":"COF","k":50,"v":0.343},
{"m":"COF","k":51,"v":0.343},{"m":"COF","k":52,"v":0.343},{"m":"COF","k":53,"v":0.343},{"m":"COF","k":54,"v":0.343},{"m":"COF","k":55,"v":0.277},{"m":"COF","k":56,"v":0.277},{"m":"COF","k":57,"v":0.277},{"m":"COF","k":58,"v":0.277},{"m":"COF","k":59,"v":0.277},{"m":"COF","k":60,"v":0.277},
{"m":"COF","k":61,"v":0.277},{"m":"COF","k":62,"v":0.277},{"m":"COF","k":63,"v":0.277},{"m":"COF","k":64,"v":0.277},{"m":"COF","k":65,"v":0.277},{"m":"COF","k":66,"v":0.277},{"m":"COF","k":67,"v":0.277},{"m":"COF","k":68,"v":0.343},{"m":"COF","k":69,"v":0.343},{"m":"COF","k":70,"v":0.343},
{"m":"COF","k":71,"v":0.277},{"m":"COF","k":72,"v":0.277},{"m":"COF","k":73,"v":0.277},{"m":"COF","k":74,"v":0.277},{"m":"COF","k":75,"v":0.277},{"m":"COF","k":76,"v":0.277},{"m":"COF","k":77,"v":0.277},{"m":"COF","k":78,"v":0.277},{"m":"COF","k":79,"v":0.277},{"m":"COF","k":80,"v":0.277},
{"m":"COF","k":81,"v":0.211},{"m":"COF","k":82,"v":0.211},{"m":"COF","k":83,"v":0.211},{"m":"COF","k":84,"v":0.211},{"m":"COF","k":85,"v":0.277},{"m":"COF","k":86,"v":0.277},{"m":"COF","k":87,"v":0.277},{"m":"COF","k":88,"v":0.277},{"m":"COF","k":89,"v":0.277},{"m":"COF","k":90,"v":0.277},
{"m":"COF","k":91,"v":0.277},{"m":"COF","k":92,"v":0.277},{"m":"COF","k":93,"v":0.277},{"m":"COF","k":94,"v":0.277},{"m":"COF","k":95,"v":0.277},{"m":"COF","k":96,"v":0.277},{"m":"COF","k":97,"v":0.277},{"m":"COF","k":98,"v":0.277},{"m":"COF","k":99,"v":0.277},{"m":"COF","k":100,"v":0.277},
{"m":"kNN","k":1,"v":0.146},{"m":"kNN","k":2,"v":0.146},{"m":"kNN","k":3,"v":0.08},{"m":"kNN","k":4,"v":0.08},{"m":"kNN","k":5,"v":0.08},{"m":"kNN","k":6,"v":0.08},{"m":"kNN","k":7,"v":0.08},{"m":"kNN","k":8,"v":0.08},{"m":"kNN","k":9,"v":0.146},{"m":"kNN","k":10,"v":0.146},
{"m":"kNN","k":11,"v":0.146},{"m":"kNN","k":12,"v":0.146},{"m":"kNN","k":13,"v":0.146},{"m":"kNN","k":14,"v":0.146},{"m":"kNN","k":15,"v":0.146},{"m":"kNN","k":16,"v":0.146},{"m":"kNN","k":17,"v":0.146},{"m":"kNN","k":18,"v":0.146},{"m":"kNN","k":19,"v":0.146},{"m":"kNN","k":20,"v":0.146},
{"m":"kNN","k":21,"v":0.146},{"m":"kNN","k":22,"v":0.146},{"m":"kNN","k":23,"v":0.146},{"m":"kNN","k":24,"v":0.146},{"m":"kNN","k":25,"v":0.08},{"m":"kNN","k":26,"v":0.08},{"m":"kNN","k":27,"v":0.08},{"m":"kNN","k":28,"v":0.08},{"m":"kNN","k":29,"v":0.08},{"m":"kNN","k":30,"v":0.08},
{"m":"kNN","k":31,"v":0.08},{"m":"kNN","k":32,"v":0.08},{"m":"kNN","k":33,"v":0.08},{"m":"kNN","k":34,"v":0.08},{"m":"kNN","k":35,"v":0.08},{"m":"kNN","k":36,"v":0.08},{"m":"kNN","k":37,"v":0.08},{"m":"kNN","k":38,"v":0.08},{"m":"kNN","k":39,"v":0.08},{"m":"kNN","k":40,"v":0.08},
{"m":"kNN","k":41,"v":0.08},{"m":"kNN","k":42,"v":0.08},{"m":"kNN","k":43,"v":0.08},{"m":"kNN","k":44,"v":0.08},{"m":"kNN","k":45,"v":0.08},{"m":"kNN","k":46,"v":0.08},{"m":"kNN","k":47,"v":0.08},{"m":"kNN","k":48,"v":0.08},{"m":"kNN","k":49,"v":0.08},{"m":"kNN","k":50,"v":0.08},
{"m":"kNN","k":51,"v":0.08},{"m":"kNN","k":52,"v":0.08},{"m":"kNN","k":53,"v":0.08},{"m":"kNN","k":54,"v":0.08},{"m":"kNN","k":55,"v":0.08},{"m":"kNN","k":56,"v":0.08},{"m":"kNN","k":57,"v":0.08},{"m":"kNN","k":58,"v":0.08},{"m":"kNN","k":59,"v":0.08},{"m":"kNN","k":60,"v":0.08},
{"m":"kNN","k":61,"v":0.08},{"m":"kNN","k":62,"v":0.08},{"m":"kNN","k":63,"v":0.08},{"m":"kNN","k":64,"v":0.08},{"m":"kNN","k":65,"v":0.08},{"m":"kNN","k":66,"v":0.08},{"m":"kNN","k":67,"v":0.08},{"m":"kNN","k":68,"v":0.08},{"m":"kNN","k":69,"v":0.08},{"m":"kNN","k":70,"v":0.08},
{"m":"kNN","k":71,"v":0.08},{"m":"kNN","k":72,"v":0.08},{"m":"kNN","k":73,"v":0.08},{"m":"kNN","k":74,"v":0.08},{"m":"kNN","k":75,"v":0.08},{"m":"kNN","k":76,"v":0.08},{"m":"kNN","k":77,"v":0.08},{"m":"kNN","k":78,"v":0.08},{"m":"kNN","k":79,"v":0.08},{"m":"kNN","k":80,"v":0.08},
{"m":"kNN","k":81,"v":0.08},{"m":"kNN","k":82,"v":0.08},{"m":"kNN","k":83,"v":0.08},{"m":"kNN","k":84,"v":0.08},{"m":"kNN","k":85,"v":0.08},{"m":"kNN","k":86,"v":0.08},{"m":"kNN","k":87,"v":0.08},{"m":"kNN","k":88,"v":0.08},{"m":"kNN","k":89,"v":0.08},{"m":"kNN","k":90,"v":0.146},
{"m":"kNN","k":91,"v":0.08},{"m":"kNN","k":92,"v":0.08},{"m":"kNN","k":93,"v":0.08},{"m":"kNN","k":94,"v":0.146},{"m":"kNN","k":95,"v":0.08},{"m":"kNN","k":96,"v":0.08},{"m":"kNN","k":97,"v":0.08},{"m":"kNN","k":98,"v":0.146},{"m":"kNN","k":99,"v":0.146},{"m":"kNN","k":100,"v":0.146},
{"m":"SimplifiedLOF","k":1,"v":0.014},{"m":"SimplifiedLOF","k":2,"v":0.08},{"m":"SimplifiedLOF","k":3,"v":0.08},{"m":"SimplifiedLOF","k":4,"v":0.08},{"m":"SimplifiedLOF","k":5,"v":0.08},{"m":"SimplifiedLOF","k":6,"v":0.08},{"m":"SimplifiedLOF","k":7,"v":0.08},{"m":"SimplifiedLOF","k":8,"v":0.08},{"m":"SimplifiedLOF","k":9,"v":0.08},{"m":"SimplifiedLOF","k":10,"v":0.08},
{"m":"SimplifiedLOF","k":11,"v":0.08},{"m":"SimplifiedLOF","k":12,"v":0.08},{"m":"SimplifiedLOF","k":13,"v":0.08},{"m":"SimplifiedLOF","k":14,"v":0.08},{"m":"SimplifiedLOF","k":15,"v":0.08},{"m":"SimplifiedLOF","k":16,"v":0.08},{"m":"SimplifiedLOF","k":17,"v":0.08},{"m":"SimplifiedLOF","k":18,"v":0.08},{"m":"SimplifiedLOF","k":19,"v":0.08},{"m":"SimplifiedLOF","k":20,"v":0.08},
{"m":"SimplifiedLOF","k":21,"v":0.08},{"m":"SimplifiedLOF","k":22,"v":0.08},{"m":"SimplifiedLOF","k":23,"v":0.08},{"m":"SimplifiedLOF","k":24,"v":0.08},{"m":"SimplifiedLOF","k":25,"v":0.08},{"m":"SimplifiedLOF","k":26,"v":0.08},{"m":"SimplifiedLOF","k":27,"v":0.08},{"m":"SimplifiedLOF","k":28,"v":0.08},{"m":"SimplifiedLOF","k":29,"v":0.08},{"m":"SimplifiedLOF","k":30,"v":0.08},
{"m":"SimplifiedLOF","k":31,"v":0.08},{"m":"SimplifiedLOF","k":32,"v":0.08},{"m":"SimplifiedLOF","k":33,"v":0.08},{"m":"SimplifiedLOF","k":34,"v":0.08},{"m":"SimplifiedLOF","k":35,"v":0.08},{"m":"SimplifiedLOF","k":36,"v":0.08},{"m":"SimplifiedLOF","k":37,"v":0.08},{"m":"SimplifiedLOF","k":38,"v":0.08},{"m":"SimplifiedLOF","k":39,"v":0.08},{"m":"SimplifiedLOF","k":40,"v":0.08},
{"m":"SimplifiedLOF","k":41,"v":0.08},{"m":"SimplifiedLOF","k":42,"v":0.08},{"m":"SimplifiedLOF","k":43,"v":0.08},{"m":"SimplifiedLOF","k":44,"v":0.08},{"m":"SimplifiedLOF","k":45,"v":0.08},{"m":"SimplifiedLOF","k":46,"v":0.08},{"m":"SimplifiedLOF","k":47,"v":0.08},{"m":"SimplifiedLOF","k":48,"v":0.08},{"m":"SimplifiedLOF","k":49,"v":0.08},{"m":"SimplifiedLOF","k":50,"v":0.08},
{"m":"SimplifiedLOF","k":51,"v":0.08},{"m":"SimplifiedLOF","k":52,"v":0.08},{"m":"SimplifiedLOF","k":53,"v":0.08},{"m":"SimplifiedLOF","k":54,"v":0.08},{"m":"SimplifiedLOF","k":55,"v":0.08},{"m":"SimplifiedLOF","k":56,"v":0.08},{"m":"SimplifiedLOF","k":57,"v":0.08},{"m":"SimplifiedLOF","k":58,"v":0.08},{"m":"SimplifiedLOF","k":59,"v":0.08},{"m":"SimplifiedLOF","k":60,"v":0.08},
{"m":"SimplifiedLOF","k":61,"v":0.08},{"m":"SimplifiedLOF","k":62,"v":0.08},{"m":"SimplifiedLOF","k":63,"v":0.08},{"m":"SimplifiedLOF","k":64,"v":0.08},{"m":"SimplifiedLOF","k":65,"v":0.08},{"m":"SimplifiedLOF","k":66,"v":0.08},{"m":"SimplifiedLOF","k":67,"v":0.08},{"m":"SimplifiedLOF","k":68,"v":0.08},{"m":"SimplifiedLOF","k":69,"v":0.08},{"m":"SimplifiedLOF","k":70,"v":0.08},
{"m":"SimplifiedLOF","k":71,"v":0.08},{"m":"SimplifiedLOF","k":72,"v":0.08},{"m":"SimplifiedLOF","k":73,"v":0.08},{"m":"SimplifiedLOF","k":74,"v":0.08},{"m":"SimplifiedLOF","k":75,"v":0.08},{"m":"SimplifiedLOF","k":76,"v":0.08},{"m":"SimplifiedLOF","k":77,"v":0.08},{"m":"SimplifiedLOF","k":78,"v":0.08},{"m":"SimplifiedLOF","k":79,"v":0.08},{"m":"SimplifiedLOF","k":80,"v":0.08},
{"m":"SimplifiedLOF","k":81,"v":0.08},{"m":"SimplifiedLOF","k":82,"v":0.08},{"m":"SimplifiedLOF","k":83,"v":0.08},{"m":"SimplifiedLOF","k":84,"v":0.08},{"m":"SimplifiedLOF","k":85,"v":0.08},{"m":"SimplifiedLOF","k":86,"v":0.08},{"m":"SimplifiedLOF","k":87,"v":0.08},{"m":"SimplifiedLOF","k":88,"v":0.08},{"m":"SimplifiedLOF","k":89,"v":0.08},{"m":"SimplifiedLOF","k":90,"v":0.08},
{"m":"SimplifiedLOF","k":91,"v":0.08},{"m":"SimplifiedLOF","k":92,"v":0.08},{"m":"SimplifiedLOF","k":93,"v":0.08},{"m":"SimplifiedLOF","k":94,"v":0.08},{"m":"SimplifiedLOF","k":95,"v":0.08},{"m":"SimplifiedLOF","k":96,"v":0.08},{"m":"SimplifiedLOF","k":97,"v":0.08},{"m":"SimplifiedLOF","k":98,"v":0.08},{"m":"SimplifiedLOF","k":99,"v":0.08},{"m":"SimplifiedLOF","k":100,"v":0.08}
]},
"layer":[
{"mark":{"type":"line","strokeDash":[3,3],"strokeWidth":1,"clip":true},
 "encoding":{
  "x":{"field":"k","type":"quantitative","scale":{"domain":[0,101],"nice":false,"zero":false},"axis":{"values":[1,10,20,30,40,50,60,70,80,90,100],"labelPadding":4,"title":"Neighborhood size","titlePadding":22,"titleFontSize":15,"labelFlush":false}},
  "y":{"field":"v","type":"quantitative","scale":{"domain":[-0.1,0.35],"nice":false,"zero":false},"axis":{"values":[-0.1,0,0.1,0.2,0.3],"format":".1f","labelPadding":4,"title":"Adjusted P@n","titlePadding":10}},
  "color":{"field":"m","type":"nominal","scale":{"domain":["kNN","kNNW","LOF","SimplifiedLOF","LoOP","LDOF","ODIN","KDEOS","COF","FastABOD","LDF","INFLO"],"range":["#0000FF","#FF0000","#00DD00","#000000","#E8E800","#C8C8FF","#9A32F0","#FFB000","#000080","#FFC8FF","#CC2222","#9ACD32"]}},
  "detail":{"field":"m"}
 }},
{"mark":{"type":"point","filled":false,"strokeWidth":1,"size":50,"opacity":1,"clip":true},
 "encoding":{
  "x":{"field":"k","type":"quantitative"},
  "y":{"field":"v","type":"quantitative"},
  "color":{"field":"m","type":"nominal","legend":{"title":null,"orient":"none","legendX":38,"legendY":380,"columns":6,"direction":"horizontal","symbolSize":64,"symbolStrokeWidth":1,"labelOffset":19,"columnPadding":20,"rowPadding":6}},
  "shape":{"field":"m","type":"nominal","scale":{"domain":["kNN","kNNW","LOF","SimplifiedLOF","LoOP","LDOF","ODIN","KDEOS","COF","FastABOD","LDF","INFLO"],"range":["square","circle","triangle-up","M-1,0L1,0M0,-1L0,1","M-1,-1L1,1M-1,1L1,-1","diamond","triangle-down","M-1,-1L1,-1L1,1L-1,1ZM-1,-1L1,1M-1,1L1,-1","M-1,0L1,0M0,-1L0,1M-0.7,-0.7L0.7,0.7M-0.7,0.7L0.7,-0.7","M0,-1.1L1.1,0L0,1.1L-1.1,0ZM-1.1,0L1.1,0M0,-1.1L0,1.1","M-1,0A1,1 0 1,0 1,0A1,1 0 1,0 -1,0ZM-1,0L1,0M0,-1L0,1","M0,-1L0.87,0.5L-0.87,0.5ZM0,1L0.87,-0.5L-0.87,-0.5Z"]}}
 }},
{"data":{"values":[{"t":"On the Evaluation of Unsupervised Outlier Detection. DAMI, 2015."}]},
 "mark":{"type":"text","align":"right","baseline":"middle","font":"DejaVu Sans Condensed","fontWeight":"bold","fontSize":9.7,"color":"#B4B4B4","dy":51,"dx":-28,"clip":false},
 "encoding":{"x":{"datum":100},"y":{"datum":-0.1},"text":{"field":"t"}}},
{"data":{"values":[{"t":"Campos, Zimek, Sander, Campello, Micenkova, Schubert, Assent, Houle"}]},
 "mark":{"type":"text","align":"right","baseline":"middle","font":"DejaVu Sans Condensed","fontWeight":"bold","fontSize":9.7,"color":"#B4B4B4","dy":64,"dx":1,"clip":false},
 "encoding":{"x":{"datum":100},"y":{"datum":-0.1},"text":{"field":"t"}}}
]
}
